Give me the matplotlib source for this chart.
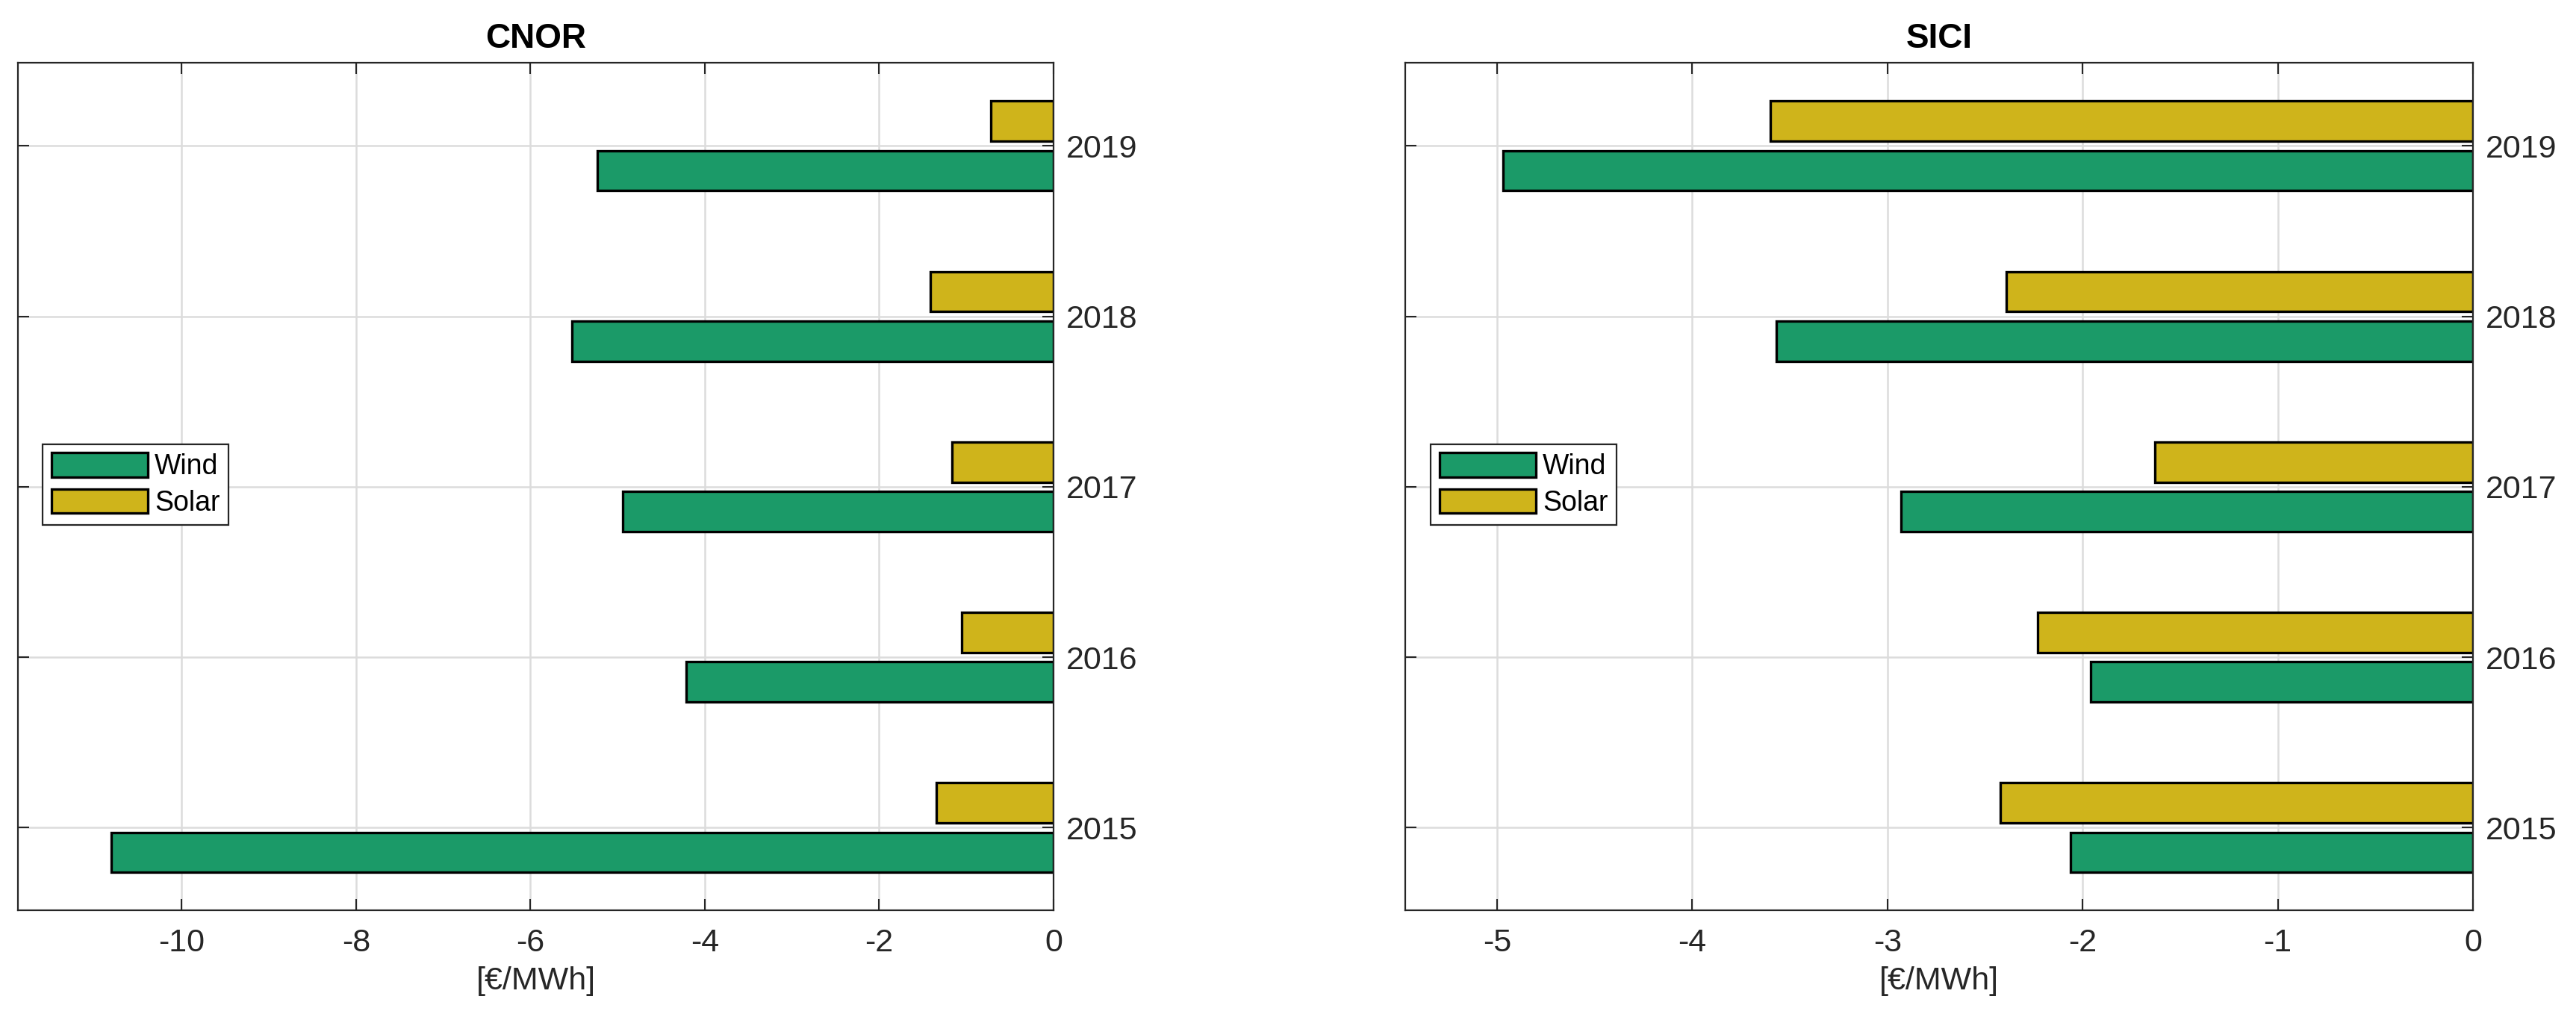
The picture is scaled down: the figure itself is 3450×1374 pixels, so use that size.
import numpy as np
import matplotlib
matplotlib.use("Agg")
import matplotlib.pyplot as plt

plt.rcParams.update({'font.family': ['Liberation Sans', 'DejaVu Sans']})

# data (values in EUR/MWh)
years = [2015, 2016, 2017, 2018, 2019]
cnor_wind = [-10.81, -4.21, -4.94, -5.52, -5.23]
cnor_solar = [-1.34, -1.05, -1.16, -1.41, -0.72]
sici_wind = [-2.06, -1.96, -2.93, -3.57, -4.97]
sici_solar = [-2.42, -2.23, -1.63, -2.39, -3.60]

panels = [
    ("CNOR", cnor_wind, cnor_solar, (-11.88, 0), [-10, -8, -6, -4, -2, 0]),
    ("SICI", sici_wind, sici_solar, (-5.47, 0), [-5, -4, -3, -2, -1, 0]),
]

WIND_C = '#1b9a68'
SOLAR_C = '#cfb41b'
DARK = '#262626'
OFFSET = 0.145
BAR_H = 0.235

fig = plt.figure(figsize=(34.5, 13.74), dpi=100)
ax_pos = [[0.00696, 0.1128, 0.402, 0.8264],
          [0.5455, 0.1128, 0.4145, 0.8264]]

for pos, (title, wind, solar, xlim, xticks) in zip(ax_pos, panels):
    ax = fig.add_axes(pos)
    y = np.array(years, dtype=float)
    ax.barh(y - OFFSET, wind, height=BAR_H, color=WIND_C, edgecolor='black',
            linewidth=2.4, label='Wind', zorder=3)
    ax.barh(y + OFFSET, solar, height=BAR_H, color=SOLAR_C, edgecolor='black',
            linewidth=2.4, label='Solar', zorder=3)

    ax.set_xlim(*xlim)
    ax.set_ylim(2014.515, 2019.49)
    ax.set_xticks(xticks)
    ax.set_xticklabels([str(t) for t in xticks])
    ax.set_yticks(years)

    ax.yaxis.tick_right()
    ax.tick_params(axis='both', which='both', direction='in', length=11,
                   width=1.5, color=DARK, labelcolor=DARK, labelsize=31,
                   top=True, bottom=True, left=True, right=True)
    ax.tick_params(axis='x', pad=17)
    ax.tick_params(axis='y', pad=12, labelleft=False, labelright=True)

    for s in ax.spines.values():
        s.set_color(DARK)
        s.set_linewidth(1.6)
        s.set_zorder(4)

    ax.grid(True, color='#dcdcdc', linewidth=1.8, zorder=0)
    ax.set_axisbelow(True)

    ax.set_title(title, fontsize=33, fontweight='bold', pad=14)
    ax.set_xlabel('[€/MWh]', fontsize=31, color=DARK, labelpad=8)

    leg = ax.legend(loc='upper left', bbox_to_anchor=(0.024, 0.5496),
                    borderaxespad=0, fontsize=27, fancybox=False,
                    framealpha=1, edgecolor=DARK, handlelength=3.45,
                    handleheight=0.96, handletextpad=0.25, labelspacing=0.3,
                    borderpad=0.3)
    leg.get_frame().set_linewidth(1.6)

fig.savefig('out.png', dpi=100)
